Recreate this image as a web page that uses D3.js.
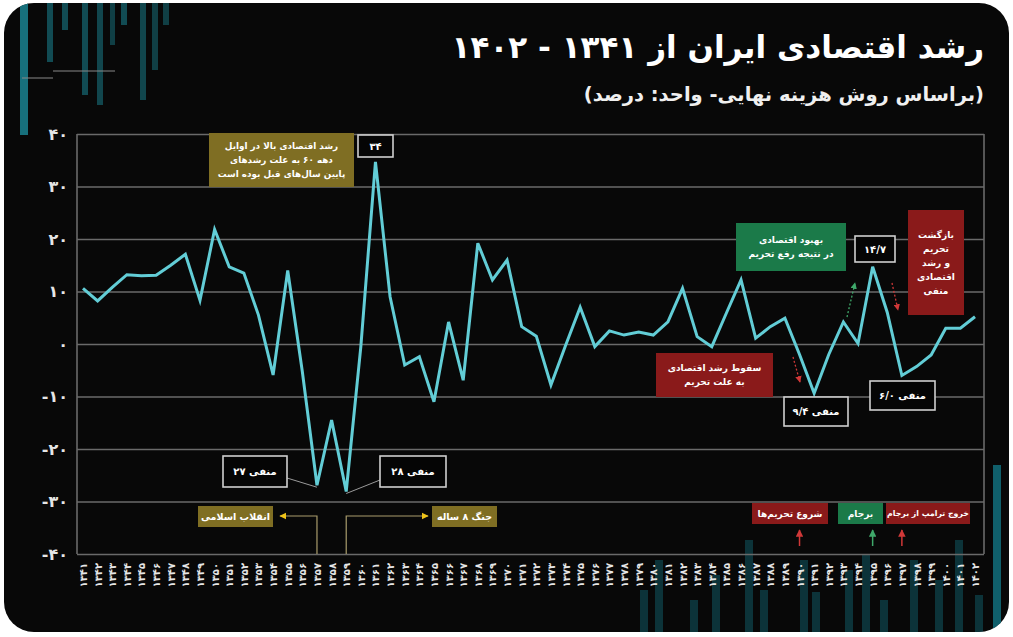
<!DOCTYPE html>
<html>
<head>
<meta charset="utf-8">
<script src="https://cdn.jsdelivr.net/npm/d3@7"></script>
<style>
html, body { margin: 0; padding: 0; background: #fff; }
svg { display: block; font-family: "DejaVu Sans", sans-serif; }
</style>
</head>
<body>
<svg width="1013" height="637"></svg>
<script>
// **** Data ****

var years = d3.range(1341, 1403);

var growth = [
    10.6, 8.2, 10.8, 13.2, 13.0, 13.1, 15.0, 17.1, 8.3, 21.8,
    14.7, 13.5, 5.5, -5.9, 14.0, -5.3, -26.9, -14.5, -28.1, -0.5,
    34.7, 9.0, -4.0, -2.4, -11.0, 4.2, -6.9, 19.2, 12.2, 16.0,
    3.3, 1.5, -7.8, -0.3, 7.0, -0.5, 2.5, 1.7, 2.3, 1.7,
    4.2, 10.6, 1.4, -0.5, 5.9, 12.2, 1.1, 3.3, 4.9, -2.0,
    -9.4, -2.0, 4.2, 0.1, 14.7, 6.0, -6.0, -4.3, -2.1, 3.0,
    3.0, 5.2
];

var yTicks = [-40, -30, -20, -10, 0, 10, 20, 30, 40];

var titleText = 'رشد اقتصادی ایران از ۱۳۴۱ - ۱۴۰۲';
var subtitleText = '(براساس روش هزینه نهایی- واحد: درصد)';

// callouts pointing at single values
var valueLabels = [
    {year: 1357, text: 'منفی ۲۷'},
    {year: 1359, text: 'منفی ۲۸'},
    {year: 1361, text: '۳۴'},
    {year: 1391, text: 'منفی ۹/۴'},
    {year: 1395, text: '۱۴/۷'},
    {year: 1397, text: 'منفی ۶/۰'}
];

// **** Helpers ****

function toFa(s) {
    return String(s).replace(/[0-9]/g, function(c) { return '۰۱۲۳۴۵۶۷۸۹'[+c]; });
}

var svg = d3.select('svg');

var x = d3.scalePoint().domain(years).range([83, 975]);
var y = d3.scaleLinear().domain([-40, 40]).range([554, 134]);

var left = 77, right = 984;

// **** Card background ****

var defs = svg.append('defs');
defs.append('clipPath').attr('id', 'card')
    .append('rect').attr('x', 4).attr('y', 3).attr('width', 1005).attr('height', 629).attr('rx', 30);

svg.append('rect')
    .attr('x', 4).attr('y', 3).attr('width', 1005).attr('height', 629).attr('rx', 30)
    .attr('fill', '#080808');

// decorative bars
var deco = svg.append('g').attr('clip-path', 'url(#card)');
var topBars = [[20, 8, 135, 0.85], [47, 6, 62, 0.55], [62, 6, 30, 0.55], [82, 6, 95, 0.55], [97, 6, 105, 0.5],
               [110, 5, 45, 0.45], [121, 6, 25, 0.55], [140, 6, 100, 0.5], [152, 6, 70, 0.45], [163, 6, 25, 0.45]];
deco.selectAll('rect.top').data(topBars).enter().append('rect')
    .attr('class', 'top')
    .attr('x', function(d) { return d[0]; }).attr('y', 0)
    .attr('width', function(d) { return d[1]; }).attr('height', function(d) { return d[2]; })
    .attr('fill', '#1a8391').attr('opacity', function(d) { return d[3]; });

var botBars = [[640, 590], [655, 560], [690, 600], [712, 575], [745, 540], [760, 590], [800, 560],
               [812, 592], [845, 570], [862, 555], [880, 600], [910, 560], [935, 580], [955, 540],
               [975, 595], [993, 465]];
deco.selectAll('rect.bot').data(botBars).enter().append('rect')
    .attr('class', 'bot')
    .attr('x', function(d) { return d[0]; }).attr('y', function(d) { return d[1]; })
    .attr('width', 8).attr('height', function(d) { return 640 - d[1]; })
    .attr('fill', '#137684').attr('opacity', function(d) { return d[0] > 990 ? 0.8 : 0.4; });

deco.append('line').attr('x1', 53).attr('x2', 115).attr('y1', 71).attr('y2', 71)
    .attr('stroke', '#888').attr('stroke-width', 1);
deco.append('line').attr('x1', 22).attr('x2', 53).attr('y1', 78).attr('y2', 78)
    .attr('stroke', '#888').attr('stroke-width', 1);

// **** Title ****

svg.append('text')
    .attr('x', 984).attr('y', 58)
    .attr('direction', 'rtl').attr('text-anchor', 'start')
    .attr('fill', '#fff').attr('font-size', 31).attr('font-weight', 'bold')
    .text(titleText);

svg.append('text')
    .attr('x', 984).attr('y', 101)
    .attr('direction', 'rtl').attr('text-anchor', 'start')
    .attr('fill', '#f0f0f0').attr('font-size', 19.5).attr('font-weight', 'bold')
    .text(subtitleText);

// **** Axes ****

var yAxis = svg.append('g').attr('class', 'y axis')
    .attr('transform', 'translate(' + left + ',0)')
    .call(d3.axisLeft(y).tickValues(yTicks).tickSize(-(right - left)).tickPadding(9)
        .tickFormat(function(d) { return toFa(d); }));
yAxis.select('.domain').remove();
yAxis.selectAll('line').attr('stroke', '#6a6a6a').attr('stroke-width', 1.6);
yAxis.selectAll('text')
    .attr('fill', '#e6e6e6').attr('font-size', 16).attr('font-weight', 'bold')
    .attr('font-family', '"DejaVu Sans", sans-serif');

svg.append('line').attr('x1', left).attr('x2', left).attr('y1', y(40)).attr('y2', y(-40))
    .attr('stroke', '#6a6a6a').attr('stroke-width', 1.6);
svg.append('line').attr('x1', right).attr('x2', right).attr('y1', y(40)).attr('y2', y(-40))
    .attr('stroke', '#6a6a6a').attr('stroke-width', 1.6);

var xAxis = svg.append('g').attr('class', 'x axis')
    .attr('transform', 'translate(0,' + y(-40) + ')')
    .call(d3.axisBottom(x).tickSize(0).tickFormat(function(d) { return toFa(d); }));
xAxis.select('.domain').remove();
xAxis.selectAll('text')
    .attr('transform', 'rotate(-90)')
    .attr('text-anchor', 'end')
    .attr('x', -9).attr('y', 0).attr('dy', '0.35em')
    .attr('fill', '#e6e6e6').attr('font-size', 10).attr('font-weight', 'bold')
    .attr('font-family', '"DejaVu Sans", sans-serif');

// **** Event markers (revolution / war) ****

var evColor = '#a99c6c';
defs.append('marker').attr('id', 'ya').attr('viewBox', '0 0 10 10')
    .attr('refX', 9).attr('refY', 5).attr('markerWidth', 6).attr('markerHeight', 6)
    .attr('orient', 'auto-start-reverse')
    .append('path').attr('d', 'M0,0 L10,5 L0,10 z').attr('fill', '#f0c419');

function arrowMarker(id, color) {
    defs.append('marker').attr('id', id).attr('viewBox', '0 0 10 10')
        .attr('refX', 9).attr('refY', 5).attr('markerWidth', 5).attr('markerHeight', 5)
        .attr('orient', 'auto')
        .append('path').attr('d', 'M0,0 L10,5 L0,10 z').attr('fill', color);
}
arrowMarker('ra', '#d03838');
arrowMarker('ga', '#3fa86a');

var evY = 516;
svg.append('path')
    .attr('d', 'M' + x(1357) + ',' + y(-40) + ' V' + evY + ' H' + 280)
    .attr('fill', 'none').attr('stroke', evColor).attr('stroke-width', 1.2)
    .attr('marker-end', 'url(#ya)');
svg.append('path')
    .attr('d', 'M' + x(1359) + ',' + y(-40) + ' V' + evY + ' H' + 428)
    .attr('fill', 'none').attr('stroke', evColor).attr('stroke-width', 1.2)
    .attr('marker-end', 'url(#ya)');

function box(x0, y0, x1, y1, fill, stroke, lines, size) {
    var g = svg.append('g');
    g.append('rect').attr('x', x0).attr('y', y0).attr('width', x1 - x0).attr('height', y1 - y0)
        .attr('fill', fill).attr('stroke', stroke || 'none').attr('stroke-width', 1.6);
    var lh = size * 1.55;
    var cy = (y0 + y1) / 2 - (lines.length - 1) * lh / 2;
    lines.forEach(function(t, i) {
        g.append('text')
            .attr('x', (x0 + x1) / 2).attr('y', cy + i * lh).attr('dy', '0.35em')
            .attr('text-anchor', 'middle').attr('direction', 'rtl')
            .attr('fill', '#fff').attr('font-size', size).attr('font-weight', 'bold')
            .text(t);
    });
    return g;
}

var olive = '#7f6e23', green = '#1b7a49', red = '#8a1a1a';

box(198, 506, 273, 527, olive, null, ['انقلاب اسلامی'], 9.5);
box(432, 506, 497, 527, olive, null, ['جنگ ۸ ساله'], 9.5);

// **** Annotation boxes ****

box(209, 133, 354, 187, olive, null,
    ['رشد اقتصادی بالا در اوایل', 'دهه ۶۰ به علت رشدهای', 'پایین سال‌های قبل بوده است'], 8.8);
box(736, 223, 846, 271, green, null, ['بهبود اقتصادی', 'در نتیجه رفع تحریم'], 9);
box(908, 210, 964, 315, red, null, ['بازگشت', 'تحریم', 'و رشد', 'اقتصادی', 'منفی'], 9);
box(656, 353, 773, 397, red, null, ['سقوط رشد اقتصادی', 'به علت تحریم'], 9);

box(752, 503, 828, 524, red, null, ['شروع تحریم‌ها'], 9);
box(838, 503, 883, 524, green, null, ['برجام'], 9);
box(886, 503, 970, 524, red, null, ['خروج ترامپ از برجام'], 7.8);

// small up arrows below the bottom-right labels
[[1390, 'ra'], [1395, 'ga'], [1397, 'ra']].forEach(function(a) {
    svg.append('line')
        .attr('x1', x(a[0])).attr('x2', x(a[0])).attr('y1', 546).attr('y2', 530)
        .attr('stroke', a[1] === 'ga' ? '#3fa86a' : '#d03838').attr('stroke-width', 1.5)
        .attr('marker-end', 'url(#' + a[1] + ')');
});

// small dotted trend arrows
[[793, 357, 800, 382, 'ra'], [847, 317, 855, 283, 'ga'], [892, 283, 898, 310, 'ra']].forEach(function(a) {
    svg.append('line')
        .attr('x1', a[0]).attr('y1', a[1]).attr('x2', a[2]).attr('y2', a[3])
        .attr('stroke', a[4] === 'ga' ? '#3fa86a' : '#d03838').attr('stroke-width', 1.3)
        .attr('stroke-dasharray', '2,2')
        .attr('marker-end', 'url(#' + a[4] + ')');
});

// **** Line ****

var line = d3.line()
    .x(function(d, i) { return x(years[i]); })
    .y(function(d) { return y(d); });

svg.append('path')
    .datum(growth)
    .attr('d', line)
    .attr('fill', 'none')
    .attr('stroke', '#62cdd6')
    .attr('stroke-width', 3)
    .attr('stroke-linejoin', 'miter');

// **** Value callouts ****

function valueOf(yr) { return growth[years.indexOf(yr)]; }

var vl = {
    1357: {x0: 223, y0: 456, x1: 287, y1: 487, lead: [287, 478]},
    1359: {x0: 380, y0: 456, x1: 446, y1: 487, lead: [380, 480]},
    1361: {x0: 358, y0: 135, x1: 393, y1: 157},
    1391: {x0: 784, y0: 397, x1: 848, y1: 426},
    1395: {x0: 855, y0: 236, x1: 895, y1: 262},
    1397: {x0: 870, y0: 381, x1: 935, y1: 410}
};

valueLabels.forEach(function(d) {
    var p = vl[d.year];
    if (p.lead) {
        svg.append('line')
            .attr('x1', p.lead[0]).attr('y1', p.lead[1])
            .attr('x2', x(d.year)).attr('y2', y(valueOf(d.year)) + 2)
            .attr('stroke', '#9a9a9a').attr('stroke-width', 1);
    }
    box(p.x0, p.y0, p.x1, p.y1, '#050505', '#cfcfcf', [d.text], 10);
});
</script>
</body>
</html>
